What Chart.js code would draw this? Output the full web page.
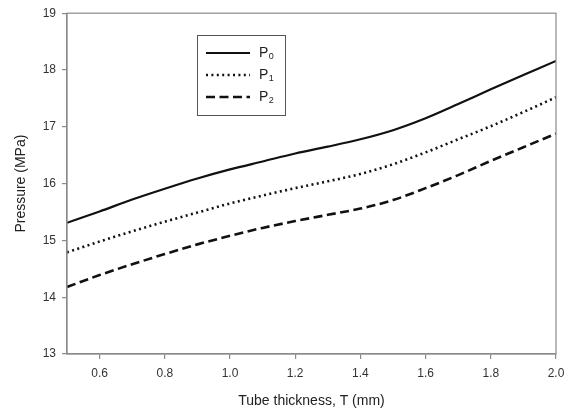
<!DOCTYPE html>
<html>
<head>
<meta charset="utf-8">
<script src="https://cdn.jsdelivr.net/npm/chart.js@4"></script>
<style>
   html, body { margin: 0; padding: 0; background: #fff; }
   #wrap { width: 581px; height: 414px; }
</style>
</head>
<body>
<div id="wrap"><canvas id="chart" width="581" height="414"></canvas></div>
<script>
const thickness = [0.5, 0.6, 0.7, 0.8, 0.9, 1.0, 1.1, 1.2, 1.3, 1.4, 1.5, 1.6, 1.7, 1.8, 1.9, 2.0];
const p0 = [15.31, 15.51, 15.72, 15.91, 16.09, 16.25, 16.39, 16.53, 16.65, 16.78, 16.94, 17.15, 17.40, 17.66, 17.91, 18.16];
const p1 = [14.79, 14.98, 15.16, 15.33, 15.49, 15.65, 15.79, 15.92, 16.04, 16.17, 16.34, 16.55, 16.78, 17.01, 17.26, 17.52];
const p2 = [14.18, 14.39, 14.58, 14.76, 14.93, 15.08, 15.22, 15.34, 15.45, 15.56, 15.71, 15.92, 16.15, 16.40, 16.64, 16.88];
const xTicks = [0.6, 0.8, 1.0, 1.2, 1.4, 1.6, 1.8, 2.0];
const yTicks = [13, 14, 15, 16, 17, 18, 19];
const seriesNames = ["P", "P", "P"];
const seriesSubs = ["0", "1", "2"];

const FONT = "'Liberation Sans', Arial, sans-serif";
const GREY = "#8a8a8a";

const toPoints = (vals) => vals.map((v, i) => ({ x: thickness[i], y: v }));

// frame + legend box drawn on top of the chart
const framePlugin = {
   id: "frame",
   afterDraw(chart) {
      const { ctx, chartArea: a } = chart;
      ctx.save();
      ctx.strokeStyle = GREY;
      ctx.lineWidth = 1.2;
      ctx.strokeRect(a.left, a.top, a.right - a.left, a.bottom - a.top);

      // legend
      const bx = 197, by = 35, bw = 88, bh = 80;
      ctx.fillStyle = "#fff";
      ctx.fillRect(bx, by, bw, bh);
      ctx.strokeStyle = "#555";
      ctx.lineWidth = 1;
      ctx.strokeRect(bx + 0.5, by + 0.5, bw, bh);
      chart.data.datasets.forEach((ds, i) => {
         const y = by + 18 + i * 22;
         ctx.strokeStyle = ds.borderColor;
         ctx.lineWidth = ds.borderWidth;
         ctx.setLineDash(ds.borderDash || []);
         ctx.lineCap = ds.borderCapStyle || "butt";
         ctx.beginPath();
         ctx.moveTo(bx + 9, y);
         ctx.lineTo(bx + 53, y);
         ctx.stroke();
         ctx.setLineDash([]);
         ctx.fillStyle = "#222";
         ctx.textBaseline = "middle";
         ctx.textAlign = "left";
         ctx.font = `14px ${FONT}`;
         ctx.fillText(seriesNames[i], bx + 62, y);
         const w = ctx.measureText(seriesNames[i]).width;
         ctx.font = `9px ${FONT}`;
         ctx.fillText(seriesSubs[i], bx + 62 + w + 0.5, y + 4);
      });
      ctx.restore();
   }
};

const mkDataset = (label, vals, dash, width, cap) => ({
   label: label,
   data: toPoints(vals),
   borderColor: "#111",
   borderWidth: width,
   borderDash: dash,
   borderCapStyle: cap,
   pointRadius: 0,
   fill: false,
   cubicInterpolationMode: "monotone"
});

new Chart(document.getElementById("chart"), {
   type: "line",
   data: {
      datasets: [
         mkDataset("P0", p0, [], 2.2, "butt"),
         mkDataset("P1", p1, [2, 3.4], 2.6, "butt"),
         mkDataset("P2", p2, [9, 4.5], 2.6, "butt")
      ]
   },
   options: {
      responsive: false,
      animation: false,
      layout: { padding: { top: 13, right: 25, left: 0, bottom: 0 } },
      plugins: {
         legend: { display: false },
         tooltip: { enabled: false }
      },
      scales: {
         x: {
            type: "linear",
            min: 0.5,
            max: 2.0,
            afterBuildTicks: (s) => { s.ticks = xTicks.map(v => ({ value: v })); },
            afterFit: (s) => { s.height = 60; },
            grid: { drawOnChartArea: false, drawTicks: true, tickLength: 5, tickColor: GREY, lineWidth: 1.2 },
            border: { display: true, color: GREY, width: 1.2 },
            ticks: {
               color: "#333",
               font: { family: FONT, size: 12 },
               padding: 7,
               maxRotation: 0,
               callback: (v) => Number(v).toFixed(1)
            },
            title: {
               display: true,
               text: "Tube thickness, T (mm)",
               color: "#222",
               font: { family: FONT, size: 14 },
               padding: { top: 8 }
            }
         },
         y: {
            type: "linear",
            min: 13,
            max: 19,
            afterBuildTicks: (s) => { s.ticks = yTicks.map(v => ({ value: v })); },
            afterFit: (s) => { s.width = 67; },
            grid: { drawOnChartArea: false, drawTicks: true, tickLength: 5, tickColor: GREY, lineWidth: 1.2 },
            border: { display: true, color: GREY, width: 1.2 },
            ticks: {
               color: "#333",
               font: { family: FONT, size: 12 },
               padding: 6
            },
            title: {
               display: true,
               text: "Pressure (MPa)",
               color: "#222",
               font: { family: FONT, size: 14 },
               padding: { top: 13, bottom: 6 }
            }
         }
      }
   },
   plugins: [framePlugin]
});
</script>
</body>
</html>
